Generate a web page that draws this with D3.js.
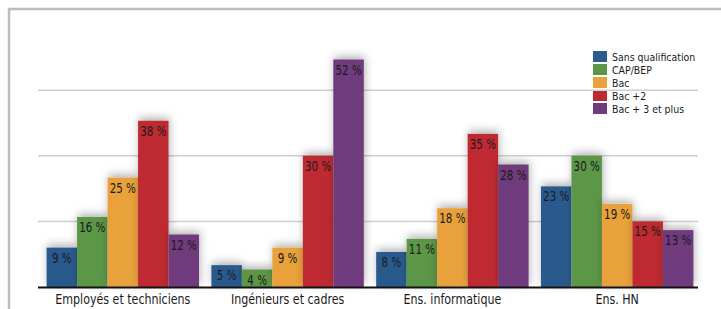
<!DOCTYPE html>
<html>
<head>
<meta charset="utf-8">
<script src="https://cdn.jsdelivr.net/npm/d3@7"></script>
<style>
  body { margin: 0; background: #fff; }
  svg text { font-family: "DejaVu Sans", sans-serif; font-stretch: condensed; fill: #1a1a1a; }
</style>
</head>
<body>
<div id="chart"></div>
<script>
const categories = ["Employés et techniciens", "Ingénieurs et cadres", "Ens. informatique", "Ens. HN"];
const series = ["Sans qualification", "CAP/BEP", "Bac", "Bac +2", "Bac + 3 et plus"];
const colors = ["#2b5a8d", "#5b9646", "#e9a23b", "#bf2a32", "#6f3b7b"];
// values per series, in category order
const sansQualif = [9, 5, 8, 23];
const capBep = [16, 4, 11, 30];
const bac = [25, 9, 18, 19];
const bac2 = [38, 30, 35, 15];
const bac3 = [12, 52, 28, 13];
const gridTicks = [15, 30, 45];

const values = [sansQualif, capBep, bac, bac2, bac3];

const width = 721, height = 309;
const squeeze = 0.85; // narrow the glyphs a bit, the original font is condensed

const svg = d3.select("#chart").append("svg")
    .attr("width", width)
    .attr("height", height);

const defs = svg.append("defs");
const shadow = defs.append("filter").attr("id", "shadow")
    .attr("x", "-50%").attr("y", "-50%").attr("width", "200%").attr("height", "200%");
shadow.append("feDropShadow")
    .attr("dx", 1).attr("dy", -3).attr("stdDeviation", 4)
    .attr("flood-color", "#000").attr("flood-opacity", 0.3);

// frame
svg.append("path")
    .attr("d", "M9,309 V9 H721")
    .attr("fill", "none")
    .attr("stroke", "#bdbdbd")
    .attr("stroke-width", 2.5);

const y = d3.scaleLinear().domain([0, 60]).range([287, 24.5]);
const x0 = d3.scaleBand().domain(categories).range([40, 700])
    .paddingInner(0.075).paddingOuter(0.04);
const x1 = d3.scaleBand().domain(series).range([0, x0.bandwidth()]);

function label(parent, x, yPos, size, txt, anchor, sq) {
    parent.append("g")
        .attr("transform", `translate(${x},${yPos}) scale(${sq || squeeze},1)`)
        .append("text")
        .attr("text-anchor", anchor || "middle")
        .attr("font-size", size)
        .text(txt);
}

// legend
const legend = svg.append("g").attr("transform", "translate(593,51)");
series.forEach((s, i) => {
    const g = legend.append("g").attr("transform", `translate(0,${i * 13})`);
    g.append("rect").attr("width", 14).attr("height", 11).attr("fill", colors[i]);
    label(g, 19, 9.5, 11, s, "start", 0.95);
});

// gridlines
svg.append("g").selectAll("line").data(gridTicks).join("line")
    .attr("x1", 38).attr("x2", 698)
    .attr("y1", d => y(d)).attr("y2", d => y(d))
    .attr("stroke", "#cfcfcf").attr("stroke-width", 1.5);

// bars
const groups = svg.append("g").selectAll("g").data(categories).join("g")
    .attr("transform", d => `translate(${x0(d)},0)`);

groups.each(function(c, ci) {
    const g = d3.select(this);
    const data = series.map((s, si) => ({ s, si, v: values[si][ci] }));
    g.selectAll("rect").data(data).join("rect")
        .attr("x", d => x1(d.s))
        .attr("y", d => y(d.v))
        .attr("width", x1.bandwidth())
        .attr("height", d => y(0) - y(d.v))
        .attr("fill", d => colors[d.si])
        .attr("filter", "url(#shadow)");
    data.forEach(d => {
        label(g, x1(d.s) + x1.bandwidth() / 2, y(d.v) + 15, 13.5, d.v + " %");
    });
});

// axis
svg.append("line")
    .attr("x1", 38).attr("x2", 698)
    .attr("y1", 287.5).attr("y2", 287.5)
    .attr("stroke", "#111").attr("stroke-width", 2);

const ticks = svg.append("g");
categories.forEach(c => {
    label(ticks, x0(c) + x0.bandwidth() / 2, 303.5, 14.5, c);
});
</script>
</body>
</html>
